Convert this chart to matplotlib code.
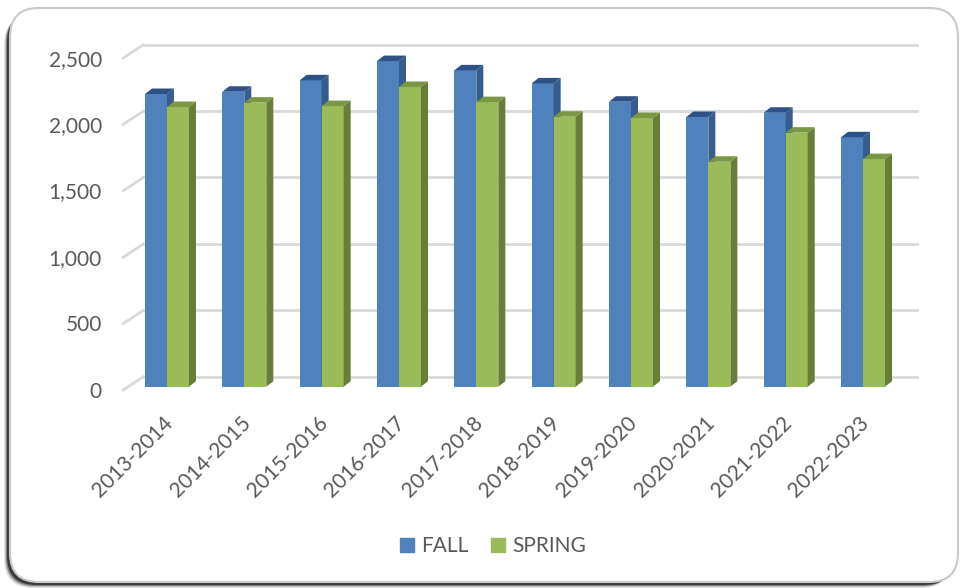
import matplotlib
matplotlib.use("Agg")
import matplotlib.pyplot as plt
from matplotlib.patches import Polygon, FancyBboxPatch, Patch
from matplotlib.transforms import ScaledTranslation

# data
years = ["2013-2014", "2014-2015", "2015-2016", "2016-2017", "2017-2018",
         "2018-2019", "2019-2020", "2020-2021", "2021-2022", "2022-2023"]
fall = [2204, 2221, 2307, 2452, 2382, 2284, 2146, 2031, 2063, 1878]
spring = [2106, 2139, 2113, 2257, 2143, 2033, 2023, 1694, 1913, 1714]
yticks = [0, 500, 1000, 1500, 2000, 2500]

plt.rcParams['font.family'] = ['Lato', 'DejaVu Sans']

W, H = 962, 588
fig = plt.figure(figsize=(W / 100, H / 100), dpi=100)

# rounded frame with shadow
for k, a in enumerate([0.10, 0.18, 0.30, 0.55]):
    off = 5 - k
    sh = FancyBboxPatch(((9 - off) / W, (5 - off) / H), 946 / W, 572 / H,
                        boxstyle="round,pad=0,rounding_size=0.03",
                        transform=fig.transFigure, fc="black", ec="none",
                        alpha=a, zorder=-5, mutation_aspect=W / H)
    fig.patches.append(sh)
frame = FancyBboxPatch((10 / W, 6 / H), 948 / W, 574 / H,
                       boxstyle="round,pad=0,rounding_size=0.03",
                       transform=fig.transFigure, fc="white", ec="#C9C9C9",
                       lw=1.5, zorder=-4, mutation_aspect=W / H)
fig.patches.append(frame)

# axes = front plane of the bars
x0, x1 = 128.3, 901.7
yb, yt = 386.7, 54.7
ax = fig.add_axes([x0 / W, 1 - yb / H, (x1 - x0) / W, (yb - yt) / H])
ax.set_xlim(-0.5, 9.5)
ax.set_ylim(0, 2500)
ax.patch.set_visible(False)
for s in ax.spines.values():
    s.set_visible(False)

pxx = (x1 - x0) / 10.0      # pixels per category
pxy = (yb - yt) / 2500.0    # pixels per unit

# back wall and side wall offsets (pixels)
back_dx, back_dy = 15, 10
front_dx, front_dy = -5, -3.3
grid_c = "#D9D9D9"
for v in yticks:
    bx0 = -0.5 + back_dx / pxx
    bx1 = 9.5 + back_dx / pxx
    by = v + back_dy / pxy
    ax.plot([bx0, bx1], [by, by], color=grid_c, lw=2, zorder=0, clip_on=False)
    fx = -0.5 + front_dx / pxx
    fy = v + front_dy / pxy
    ax.plot([fx, bx0], [fy, by], color=grid_c, lw=2, zorder=0, clip_on=False)

# bars
bw = 22 / pxx
ddx, ddy = 7 / pxx, 5.5 / pxy
series = [
    (fall, -bw / 2, "#4F81BD", "#375D8C", "#2F5286"),
    (spring, bw / 2, "#9BBB59", "#687E38", "#7A9844"),
]
for i in range(len(years)):
    for vals, shift, cf, cs, ct in series:
        v = vals[i]
        xl = i + shift - bw / 2
        xr = i + shift + bw / 2
        ax.bar(i + shift, v, width=bw, color=cf, zorder=2, clip_on=False)
        side = Polygon([(xr, 0), (xr + ddx, ddy), (xr + ddx, v + ddy), (xr, v)],
                       closed=True, fc=cs, ec="none", zorder=2, clip_on=False)
        top = Polygon([(xl, v), (xl + ddx, v + ddy), (xr + ddx, v + ddy), (xr, v)],
                      closed=True, fc=ct, ec="none", zorder=2, clip_on=False)
        ax.add_patch(side)
        ax.add_patch(top)

ax.set_yticks(yticks, [f"{t:,}" for t in yticks])
ax.set_xticks(range(len(years)), years, rotation=45, ha="right",
              rotation_mode="anchor")
ax.tick_params(axis="y", length=0, pad=19, labelsize=15, labelcolor="#595959")
ax.tick_params(axis="x", length=0, pad=19, labelsize=15, labelcolor="#595959")
shift_dn = ScaledTranslation(0, -0.03, fig.dpi_scale_trans)
for lbl in ax.get_yticklabels():
    lbl.set_transform(lbl.get_transform() + shift_dn)
shift_l = ScaledTranslation(-0.04, 0, fig.dpi_scale_trans)
for lbl in ax.get_xticklabels():
    lbl.set_transform(lbl.get_transform() + shift_l)

handles = [Patch(color="#4F81BD", label="FALL"),
           Patch(color="#9BBB59", label="SPRING")]
fig.legend(handles=handles, loc="center", bbox_to_anchor=(493 / W, 1 - 546 / H),
           ncol=2, frameon=False, fontsize=15, handlelength=0.65,
           handleheight=0.65, handletextpad=0.35, columnspacing=1.1,
           labelcolor="#595959")

fig.savefig("out.png", dpi=100)
